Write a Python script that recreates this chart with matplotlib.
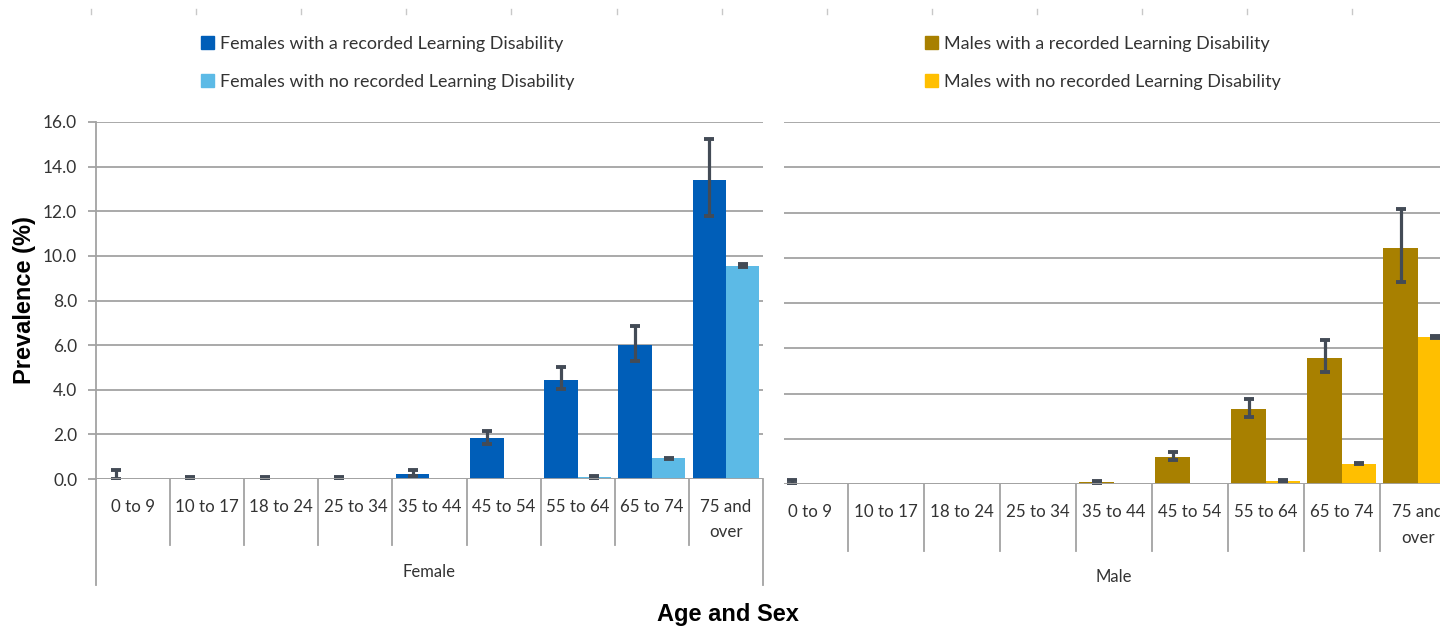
import numpy as np
import matplotlib
matplotlib.use("Agg")
import matplotlib.pyplot as plt
from matplotlib.lines import Line2D
from matplotlib.patches import Patch

# ---------------- data ----------------
categories = ["0 to 9", "10 to 17", "18 to 24", "25 to 34", "35 to 44",
              "45 to 54", "55 to 64", "65 to 74", "75 and\nover"]

female_ld = [0.0, 0.0, 0.0, 0.0, 0.22, 1.84, 4.43, 6.00, 13.41]
female_ld_lo = [0.0, 0.0, 0.0, 0.0, 0.15, 1.55, 4.02, 5.28, 11.79]
female_ld_hi = [0.40, 0.08, 0.08, 0.08, 0.40, 2.15, 5.01, 6.84, 15.25]

female_no = [0.0, 0.0, 0.0, 0.0, 0.0, 0.0, 0.09, 0.93, 9.56]
female_no_lo = [0.0, 0.0, 0.0, 0.0, 0.0, 0.0, 0.06, 0.90, 9.52]
female_no_hi = [0.0, 0.0, 0.0, 0.0, 0.0, 0.0, 0.12, 0.96, 9.64]

male_ld = [0.0, 0.0, 0.0, 0.0, 0.09, 1.19, 3.31, 5.59, 10.42]
male_ld_lo = [0.0, 0.0, 0.0, 0.0, 0.05, 1.06, 2.97, 4.97, 8.92]
male_ld_hi = [0.19, 0.0, 0.0, 0.0, 0.14, 1.41, 3.75, 6.37, 12.15]

male_no = [0.0, 0.0, 0.0, 0.0, 0.0, 0.0, 0.15, 0.91, 6.49]
male_no_lo = [0.0, 0.0, 0.0, 0.0, 0.0, 0.0, 0.12, 0.88, 6.44]
male_no_hi = [0.0, 0.0, 0.0, 0.0, 0.0, 0.0, 0.18, 0.94, 6.56]

yticks = [0, 2, 4, 6, 8, 10, 12, 14, 16]

female_labels = ["Females with a recorded Learning Disability",
                 "Females with no recorded Learning Disability"]
male_labels = ["Males with a recorded Learning Disability",
               "Males with no recorded Learning Disability"]

# ---------------- style ----------------
C_F_LD = "#005EB8"
C_F_NO = "#5CBAE6"
C_M_LD = "#A88000"
C_M_NO = "#FFBF00"
C_ERR = "#434B56"
C_GRID = "#A3A3A3"
C_TXT = "#333333"
FONT = ["Lato", "DejaVu Sans"]

W, H = 1440, 627
fig = plt.figure(figsize=(W / 100, H / 100), dpi=100)
fig.patch.set_facecolor("white")


def fx(px):
    return px / W


def fy(py):
    return 1 - py / H


BW = 0.45


def panel(ax, ld, ld_lo, ld_hi, no, no_lo, no_hi, c_ld, c_no, group, xlim,
          show_y, zero_px, top_px, sep_len_px, outer_len_px, left_outer, right_outer):
    x = np.arange(len(categories))
    ax.set_ylim(0, 16)
    ax.set_xlim(*xlim)
    ax.set_yticks(yticks)
    ax.yaxis.grid(True, color=C_GRID, lw=1.3)
    ax.set_axisbelow(True)
    for s in ["top", "right", "bottom"]:
        ax.spines[s].set_visible(False)
    b1 = ax.bar(x - BW / 2, ld, BW, color=c_ld, zorder=2)
    b2 = ax.bar(x + BW / 2, no, BW, color=c_no, zorder=2)
    for xs, v, lo, hi in [(x - BW / 2, ld, ld_lo, ld_hi), (x + BW / 2, no, no_lo, no_hi)]:
        v = np.array(v); lo = np.array(lo); hi = np.array(hi)
        m = (hi - lo) > 0
        ax.errorbar(xs[m], v[m], yerr=[v[m] - lo[m], hi[m] - v[m]], fmt="none",
                    ecolor=C_ERR, elinewidth=2.3, capsize=3.4, capthick=2.8, zorder=3,
                    clip_on=True)
    ax.axhline(0, color=C_GRID, lw=1.3, zorder=4)
    if show_y:
        ax.spines["left"].set_color(C_GRID)
        ax.spines["left"].set_linewidth(1.3)
        ax.spines["left"].set_bounds(0, 16)
        ax.set_yticklabels([f"{t:.1f}" for t in yticks], family=FONT, fontsize=12.5,
                           color=C_TXT)
        ax.tick_params(axis="y", length=6, width=1.3, color=C_GRID, pad=7.5)
    else:
        ax.spines["left"].set_visible(False)
        ax.tick_params(axis="y", length=0, labelleft=False)
    ax.set_xticks([])
    height_px = zero_px - top_px
    trans = ax.get_xaxis_transform()
    for b in np.arange(len(categories) + 1) - 0.5:
        if b == -0.5:
            if not left_outer:
                continue
            L = outer_len_px
        elif b == len(categories) - 0.5:
            if not right_outer:
                continue
            L = outer_len_px
        else:
            L = sep_len_px
        ax.plot([b, b], [0, -L / height_px], transform=trans, color=C_GRID, lw=1.3,
                clip_on=False)
    for xi, lab in zip(x, categories):
        ax.text(xi, -19.5 / height_px, lab, transform=trans, ha="center", va="top",
                family=FONT, fontsize=12.2, color=C_TXT, linespacing=1.75)
    ax.text(4, -(group[1]) / height_px, group[0], transform=trans, ha="center",
            va="center", family=FONT, fontsize=12, color=C_TXT)
    return b1, b2


# left (female) panel
axL = fig.add_axes([fx(96), fy(479), fx(763 - 96), fy(122) - fy(479)])
fb1, fb2 = panel(axL, female_ld, female_ld_lo, female_ld_hi, female_no, female_no_lo,
                 female_no_hi, C_F_LD, C_F_NO, ("Female", 93), (-0.5, 8.5), True,
                 479, 122, 66, 106, True, True)

# right (male) panel, cropped at the left
cw = 76.0
xl = -0.5 + (784 - 771.6) / cw
xr = -0.5 + (1440 - 771.6) / cw
axR = fig.add_axes([fx(784), fy(484.3), fx(1440 - 784), fy(122) - fy(484.3)])
mb1, mb2 = panel(axR, male_ld, male_ld_lo, male_ld_hi, male_no, male_no_lo, male_no_hi,
                 C_M_LD, C_M_NO, ("Male", 93), (xl, xr), False,
                 484.3, 122, 67, 106, False, False)

# legends
def legend(handles, labels, x_px, y_px):
    lg = fig.legend(handles, labels, loc="upper left",
                    bbox_to_anchor=(fx(x_px), fy(y_px)), frameon=False,
                    handlelength=0.7, handleheight=0.7, handletextpad=0.35,
                    labelspacing=1.2, borderaxespad=0, borderpad=0,
                    prop={"family": FONT, "size": 12.9})
    for t in lg.get_texts():
        t.set_color(C_TXT)
    return lg

legend([Patch(color=C_F_LD), Patch(color=C_F_NO)], female_labels, 201, 36)
legend([Patch(color=C_M_LD), Patch(color=C_M_NO)], male_labels, 925, 36)

# axis titles
fig.text(fx(25), fy(300), "Prevalence (%)", rotation=90, ha="center", va="center",
         family="Liberation Sans", fontweight="bold", fontsize=17, color="black")
fig.text(fx(728), fy(615), "Age and Sex", ha="center", va="center",
         family="Liberation Sans", fontweight="bold", fontsize=17, color="black")

# faint tick marks cropped from a chart above
for xp in np.arange(91, 1440, 105.1):
    fig.add_artist(Line2D([fx(xp), fx(xp)], [fy(9), fy(14)], color="#C8C8C8", lw=1))

fig.savefig("out.png", dpi=100, facecolor="white")
